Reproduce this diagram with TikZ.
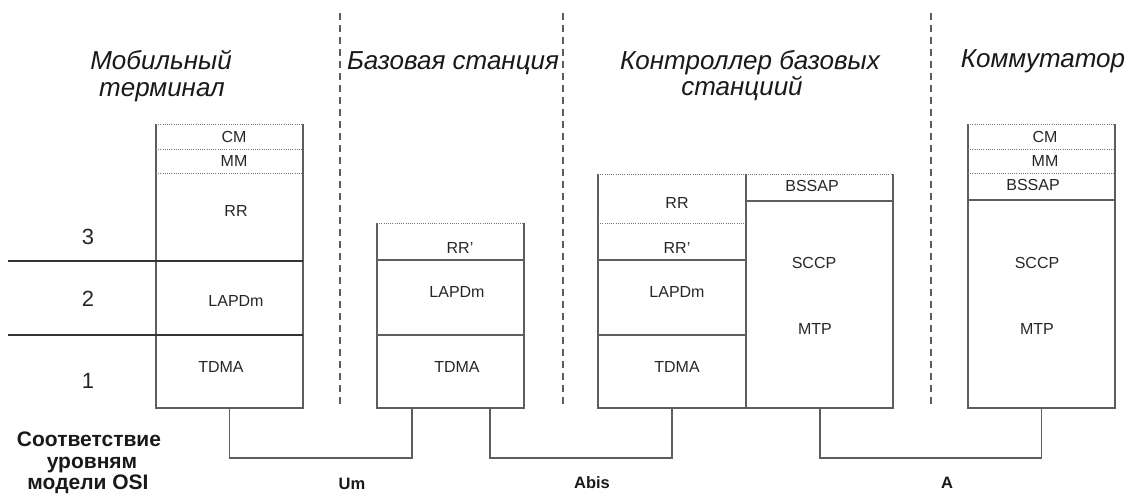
\documentclass[tikz,border=0pt]{standalone}
\usepackage{fontspec}
\setmainfont{Liberation Sans}
\definecolor{ln}{HTML}{5E5E5E}
\definecolor{tx}{HTML}{262626}
\tikzset{
  edge/.style={draw=ln, line width=1.3pt},
  dotl/.style={draw=ln!85, line width=0.9pt, dash pattern=on 1pt off 1.2pt},
  dashl/.style={draw=ln, line width=1.2pt, dash pattern=on 7pt off 5pt},
  lvl/.style={draw=black!80, line width=1.3pt},
  lab/.style={font=\fontsize{16}{19}\selectfont, text=tx, inner sep=0pt},
  ttl/.style={font=\itshape\fontsize{26}{30}\selectfont, text=black!90, inner sep=0pt, anchor=base},
  num/.style={font=\fontsize{22}{26}\selectfont, text=tx, inner sep=0pt},
  blab/.style={font=\bfseries\fontsize{16.5}{20}\selectfont, text=black!90, inner sep=0pt},
  osi/.style={font=\bfseries\fontsize{21}{24}\selectfont, text=black!90, inner sep=0pt, anchor=base},
  stack/.style={inner sep=0pt, outer sep=0pt, minimum width=147pt}
}
\begin{document}
\begin{tikzpicture}[x=1pt, y=-1pt]
\useasboundingbox (0,0) rectangle (1134,494);

% dashed separators
\coordinate (d1t) at (340,13);  \coordinate (d1b) at (340,405);
\coordinate (d2t) at (563,13);  \coordinate (d2b) at (563,405);
\coordinate (d3t) at (931,13);  \coordinate (d3b) at (931,405);
\draw[dashl] (d1t) -- (d1b);
\draw[dashl] (d2t) -- (d2b);
\draw[dashl] (d3t) -- (d3b);

% titles
\node[ttl] (t1) at (161,70) {Мобильный};
\node[ttl] (t1b) at (162,97) {терминал};
\node[ttl] (t2) at (453,70) {Базовая станция};
\node[ttl] (t3) at (750,70) {Контроллер базовых};
\node[ttl] (t3b) at (742,96) {станциий};
\node[ttl] (t4) at (1043,68) {Коммутатор};

% stacks (frames)
\node[stack, minimum height=284pt] (mt) at (229.5,266) {};
\node[stack, minimum height=185pt] (bs) at (450.5,315.5) {};
\node[stack, minimum width=295pt, minimum height=234pt] (bsc) at (745.5,291) {};
\node[stack, minimum height=284pt] (sw) at (1041.5,266) {};

\foreach \n in {mt,bs,bsc,sw}{
  \draw[edge] (\n.north west) -- (\n.south west) -- (\n.south east) -- (\n.north east);
  \draw[dotl] (\n.north west) -- (\n.north east);
}

% OSI level lines
\coordinate (l3) at (8,261);
\coordinate (l2) at (8,335);
\draw[lvl] (l3) -- (l3 -| mt.east);
\draw[lvl] (l2) -- (l2 -| mt.east);

% mobile terminal internals
\draw[dotl] (156,149) -- (303,149);
\draw[dotl] (156,173) -- (303,173);
% base station internals
\draw[edge] (377,260) -- (524,260);
\draw[edge] (377,335) -- (524,335);
% BSC internals
\draw[edge] (746,174) -- (746,408);
\draw[dotl] (598,223) -- (746,223);
\draw[edge] (598,260) -- (746,260);
\draw[edge] (598,335) -- (746,335);
\draw[edge] (746,201) -- (893,201);
% switch internals
\draw[dotl] (968,149) -- (1115,149);
\draw[dotl] (968,173) -- (1115,173);
\draw[edge] (968,200) -- (1115,200);

% labels: mobile terminal
\node[lab] (mtcm) at (234,137) {CM};
\node[lab] (mtmm) at (234,161) {MM};
\node[lab] (mtrr) at (236,211) {RR};
\node[lab] (mtla) at (236,301) {LAPDm};
\node[lab] (mttd) at (221,367) {TDMA};
% base station
\node[lab] (bsrr) at (460,248) {RR’};
\node[lab] (bsla) at (457,292) {LAPDm};
\node[lab] (bstd) at (457,367) {TDMA};
% BSC
\node[lab] (bscrr) at (677,203) {RR};
\node[lab] (bscrp) at (677,248) {RR’};
\node[lab] (bscla) at (677,292) {LAPDm};
\node[lab] (bsctd) at (677,367) {TDMA};
\node[lab] (bscbs) at (812,186) {BSSAP};
\node[lab] (bscsc) at (814,263) {SCCP};
\node[lab] (bscmt) at (815,329) {MTP};
% switch
\node[lab] (swcm) at (1045,137) {CM};
\node[lab] (swmm) at (1045,161) {MM};
\node[lab] (swbs) at (1033,185) {BSSAP};
\node[lab] (swsc) at (1037,263) {SCCP};
\node[lab] (swmt) at (1037,329) {MTP};

% level numbers
\node[num] (n3) at (88,237) {3};
\node[num] (n2) at (88,299) {2};
\node[num] (n1) at (88,381) {1};

\node[osi] (osi1) at (89,446) {Соответствие};
\node[osi] (osi2) at (92,468) {уровням};
\node[osi] (osi3) at (88,489) {модели OSI};

% interfaces
\coordinate (bsA) at (412,408);
\coordinate (bsB) at (490,408);
\coordinate (bscA) at (672,408);
\coordinate (bscB) at (820,408);
\draw[edge] (mt.south) -- ++(0,50) -| (bsA);
\draw[edge] (bsB) -- ++(0,50) -| (bscA);
\draw[edge] (bscB) -- ++(0,50) -| (sw.south);

\node[blab] (um) at (352,484) {Um};
\node[blab] (abis) at (592,483) {Abis};
\node[blab] (aif) at (947,483) {A};
\end{tikzpicture}
\end{document}
